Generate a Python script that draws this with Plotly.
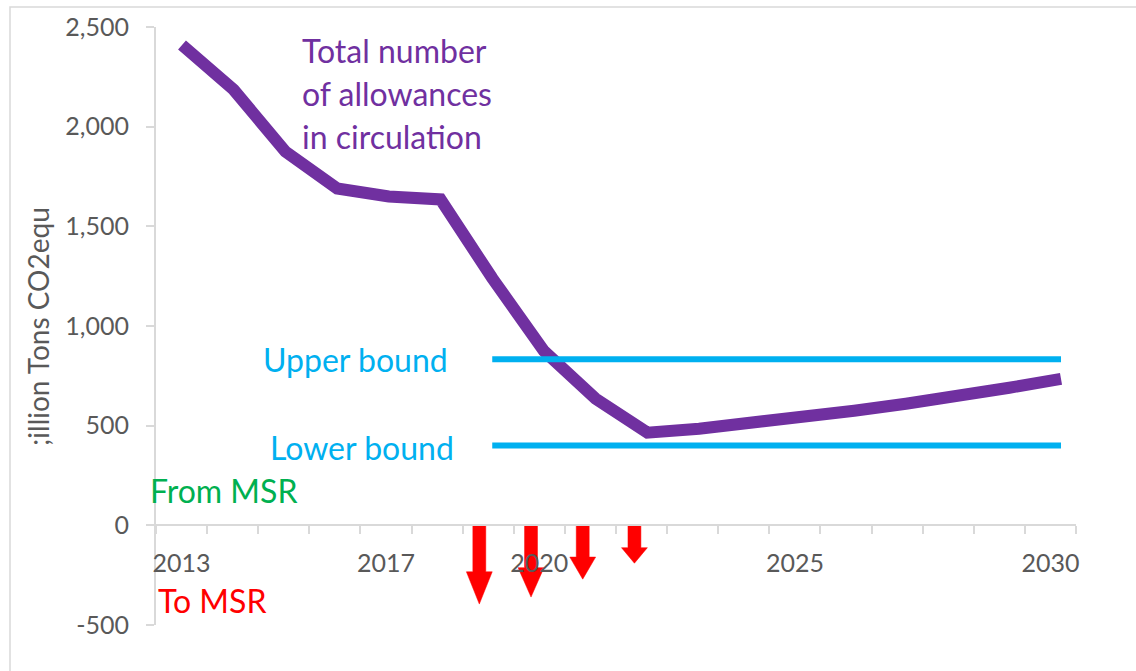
import plotly.graph_objects as go

# ---------------- data ----------------
years = list(range(2013, 2031))
allowances = [2410, 2185, 1875, 1690, 1650, 1635, 1240, 875, 635, 465,
              485, 510, 540, 575, 610, 645, 690, 735]
bound_years = [2019, 2030]
upper_bound = [833, 833]
lower_bound = [400, 400]
msr_years = [2019, 2020, 2021, 2022]
to_msr = [-395, -360, -270, -190]

x_tick_labels = ["2013", "2017", "2020", "2025", "2030"]
y_tick_vals = [-500, 0, 500, 1000, 1500, 2000, 2500]
y_tick_text = ["-500", "0", "500", "1,000", "1,500", "2,000", "2,500"]
y_title = ";illion Tons CO2equ"

# ---------------- style ----------------
FONT = "Lato"
PURPLE = "#7030A0"
CYAN = "#00B0F0"
GREEN = "#00B050"
RED = "#FF0000"
GREY_TXT = "#595959"
GREY_AX = "#D9D9D9"

W, H = 1136, 671
L, R, T, B = 156, 1076, 27, 625
Y_MIN, Y_MAX = -500, 2500


def pxx(x):
    return (x - L) / (R - L)


def pxy(y):
    return (B - y) / (B - T)


fig = go.Figure()

n_cat = len(years)
label_idx = [years.index(int(t)) for t in x_tick_labels]

# total number of allowances (data axis x)
fig.add_trace(go.Scatter(x=years, y=allowances, mode="lines",
                         line=dict(color=PURPLE, width=12),
                         xaxis="x", yaxis="y", hoverinfo="skip"))

# bounds
for vals in (upper_bound, lower_bound):
    fig.add_trace(go.Scatter(x=bound_years, y=vals, mode="lines",
                             line=dict(color=CYAN, width=6),
                             xaxis="x", yaxis="y", hoverinfo="skip"))

# arrows to MSR: path shapes in data coordinates, drawn below the axis labels
shaft = 0.125
head = 0.25
for yr, v in zip(msr_years, to_msr):
    xc = yr - 0.25
    hl = 0.41 * v
    pts = [(xc - shaft, 0), (xc + shaft, 0), (xc + shaft, v - hl), (xc + head, v - hl),
           (xc, v), (xc - head, v - hl), (xc - shaft, v - hl)]
    path = "M " + " L ".join(f"{px},{py}" for px, py in pts) + " Z"
    fig.add_shape(type="path", path=path, xref="x", yref="y",
                  fillcolor=RED, line=dict(color=RED, width=0.5), layer="below")

# placeholder trace so the category-style label axis (x2) gets drawn
fig.add_trace(go.Scatter(x=[None], y=[None], mode="lines", xaxis="x2", yaxis="y",
                         hoverinfo="skip"))

fig.update_layout(
    width=W, height=H,
    margin=dict(l=L, r=W - R, t=T, b=H - B),
    paper_bgcolor="white", plot_bgcolor="rgba(0,0,0,0)",
    showlegend=False,
    font=dict(family=FONT, color=GREY_TXT),
    xaxis=dict(
        range=[2012.497, 2030.29], anchor="y",
        visible=False, fixedrange=True,
    ),
    xaxis2=dict(
        range=[-0.5, n_cat - 0.5], overlaying="x",
        anchor="free", position=(0 - Y_MIN) / (Y_MAX - Y_MIN),
        tickmode="array", tickvals=label_idx, ticktext=x_tick_labels,
        ticks="", showgrid=False, zeroline=False,
        showline=True, linecolor=GREY_AX, linewidth=2,
        tickfont=dict(family=FONT, size=25, color=GREY_TXT),
        ticklabelstandoff=16,
        minor=dict(tickmode="array", tickvals=[i - 0.5 for i in range(n_cat + 1)],
                   ticks="outside", ticklen=8, tickcolor=GREY_AX, tickwidth=2,
                   showgrid=False),
        side="bottom", automargin=False, fixedrange=True,
    ),
    yaxis=dict(
        range=[Y_MIN, Y_MAX],
        tickmode="array", tickvals=y_tick_vals, ticktext=y_tick_text,
        ticks="outside", ticklen=8, tickcolor=GREY_AX, tickwidth=2,
        showline=True, linecolor=GREY_AX, linewidth=2,
        showgrid=False, zeroline=False,
        tickfont=dict(family=FONT, size=25, color=GREY_TXT),
        ticklabelstandoff=12,
        automargin=False, fixedrange=True,
    ),
)

# outer border
fig.add_shape(type="rect", xref="paper", yref="paper",
              x0=pxx(10), x1=pxx(1145), y0=pxy(690), y1=pxy(7),
              line=dict(color=GREY_AX, width=1.5), fillcolor="rgba(0,0,0,0)",
              layer="below")


def label(text, x, y, color, size=32, xanchor="left", angle=0):
    fig.add_annotation(text=text, xref="paper", yref="paper",
                       x=pxx(x), y=pxy(y), xanchor=xanchor, yanchor="middle",
                       showarrow=False, textangle=angle,
                       font=dict(family=FONT, size=size, color=color))


label("Total number", 300, 51, PURPLE)
label("of allowances", 300, 93, PURPLE)
label("in circulation", 300, 136, PURPLE)
label("Upper bound", 261, 359, CYAN)
label("Lower bound", 268, 447, CYAN)
label("From MSR", 148, 490, GREEN)
label("To MSR", 156, 600, RED)
label(y_title, 38, 326, GREY_TXT, size=28, xanchor="center", angle=-90)

fig.write_html("out.html", config={"displayModeBar": False},
               post_script="document.body.style.margin='0';document.body.style.overflow='hidden';")
